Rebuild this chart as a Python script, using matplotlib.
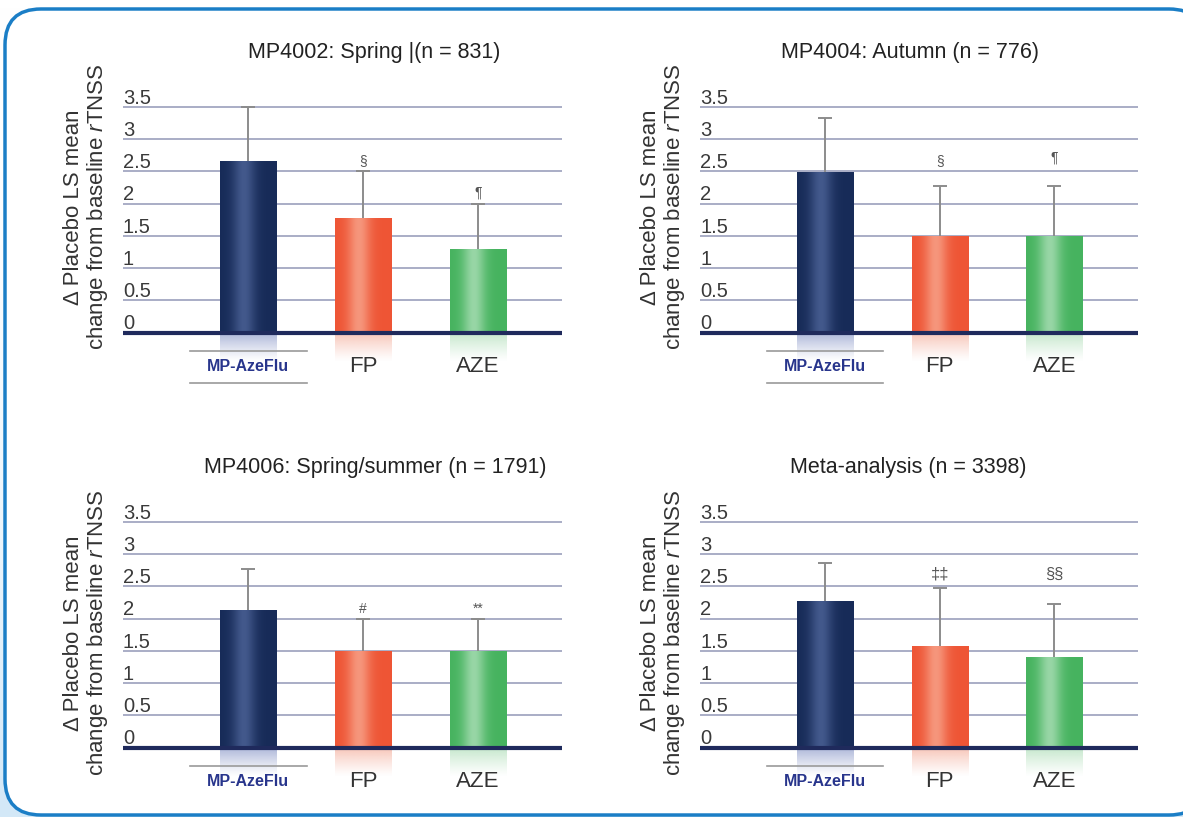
import numpy as np
import matplotlib
matplotlib.use("Agg")
import matplotlib.pyplot as plt
import matplotlib.transforms as mtransforms
from matplotlib.colors import to_rgb
from matplotlib.patches import FancyBboxPatch

plt.rcParams['font.family'] = ['Liberation Sans', 'DejaVu Sans']
plt.rcParams['mathtext.fontset'] = 'custom'
plt.rcParams['mathtext.rm'] = 'Liberation Sans'
plt.rcParams['mathtext.it'] = 'Liberation Sans:italic'

# data
groups = ["MP-AzeFlu", "FP", "AZE"]
titles = ["MP4002: Spring |(n = 831)", "MP4004: Autumn (n = 776)",
          "MP4006: Spring/summer (n = 1791)", "Meta-analysis (n = 3398)"]

mean_4002 = [2.66, 1.78, 1.30]
upper_4002 = [3.50, 2.50, 2.00]
mean_4004 = [2.49, 1.49, 1.49]
upper_4004 = [3.33, 2.27, 2.27]
mean_4006 = [2.14, 1.50, 1.50]
upper_4006 = [2.77, 1.99, 1.99]
mean_meta = [2.28, 1.58, 1.40]
upper_meta = [2.86, 2.47, 2.23]

sig_4002 = ["", "§", "¶"]
sig_4004 = ["", "§", "¶"]
sig_4006 = ["", "#", "**"]
sig_meta = ["", "‡‡", "§§"]
sig_y_4002 = [0, 2.66, 2.17]
sig_y_4004 = [0, 2.66, 2.71]
sig_y_4006 = [0, 2.15, 2.15]
sig_y_meta = [0, 2.69, 2.69]

yticks = [0, 0.5, 1, 1.5, 2, 2.5, 3, 3.5]
ytick_labels = ["0", "0.5", "1", "1.5", "2", "2.5", "3", "3.5"]

means = [mean_4002, mean_4004, mean_4006, mean_meta]
uppers = [upper_4002, upper_4004, upper_4006, upper_meta]
sigs = [sig_4002, sig_4004, sig_4006, sig_meta]
sig_ys = [sig_y_4002, sig_y_4004, sig_y_4006, sig_y_meta]

# styling / layout
W, H = 1183, 817
edge_cols = ['#172b58', '#ee5535', '#46b35f']
mid_cols = ['#43598c', '#f6967c', '#98d6a6']
refl_cols = ['#9aa6d0', '#f6b8a8', '#b8e2c0']
# axes boxes in pixels: left, top, width, height
boxes = [(123, 94, 439, 303), (700, 94, 438, 303),
         (123, 509, 439, 303), (700, 509, 438, 303)]
title_x = [0.572, 0.479, 0.574, 0.475]
ylab_y = [1.95, 1.95, 1.78, 1.78]
lower_line = [True, True, False, False]
sig_size = [10, 10, 10, 12]

fig = plt.figure(figsize=(W / 100, H / 100), dpi=100)
fig.patch.set_facecolor('white')

# light blue page background outside the rounded frame
bg = fig.add_axes([0, 0, 1, 1], zorder=-3)
bg.set_axis_off()
grad = np.linspace(0, 1, 100)[:, None] ** 2
bg_img = np.ones((100, 1, 3)) * (1 - grad[..., None]) + \
    np.array(to_rgb('#d3e8f7'))[None, None, :] * grad[..., None]
bg.imshow(bg_img, extent=[0, 1, 0, 1], aspect='auto', origin='upper')
bg.set_xlim(0, 1)
bg.set_ylim(0, 1)

# rounded frame, right side runs off the page; drawn in the bg axes (pixel units)
bg2 = fig.add_axes([0, 0, 1, 1], zorder=-2)
bg2.set_axis_off()
bg2.set_xlim(0, W)
bg2.set_ylim(H, 0)
frame = FancyBboxPatch((5, 9), 1200, 806, boxstyle="round,pad=0,rounding_size=36",
                       facecolor='white', edgecolor='#1b7ec6', lw=2.5)
bg2.add_patch(frame)
bg2.patch.set_alpha(0)

x = np.arange(len(groups))
bw = 0.49

for k in range(4):
    l, t, w, h = boxes[k]
    ax = fig.add_axes([l / W, 1 - (t + h) / H, w / W, h / H])
    ax.set_axis_off()

    m = np.array(means[k])
    up = np.array(uppers[k])

    # gridlines and baseline
    for yt in yticks[1:]:
        ax.axhline(yt, color='#a9adc6', lw=1.4, zorder=1)
    ax.axhline(0, color='#1f2a5c', lw=3, zorder=5)

    bars = ax.bar(x, m, width=bw, color=edge_cols, zorder=3)
    eb = ax.errorbar(x, m, yerr=[np.zeros(3), up - m], fmt='none',
                     ecolor='#8c8c8c', elinewidth=1.4, capsize=5, capthick=1.4,
                     zorder=2)
    eb[1][0].set_visible(False)

    # horizontal gradient inside bars, reflection under them
    tt = np.linspace(0, 1, 80)
    prof = np.exp(-((tt - 0.42) / 0.2) ** 2)
    for i, b in enumerate(bars):
        e = np.array(to_rgb(edge_cols[i]))
        c = np.array(to_rgb(mid_cols[i]))
        img = e[None, :] * (1 - prof[:, None]) + c[None, :] * prof[:, None]
        bx = b.get_x()
        im = ax.imshow(img[None, :, :], extent=[bx, bx + bw, 0, b.get_height()],
                       aspect='auto', zorder=4, interpolation='bilinear')
        im.set_clip_path(b)
        rc = np.array(to_rgb(refl_cols[i]))
        alpha = np.linspace(0.85, 0.0, 40) ** 1.2
        refl = np.zeros((40, 1, 4))
        refl[:, 0, :3] = rc
        refl[:, 0, 3] = alpha
        ax.imshow(refl, extent=[bx, bx + bw, -0.45, 0], aspect='auto',
                  zorder=2, interpolation='bilinear')

    # significance marks
    for i in range(3):
        if sigs[k][i]:
            ax.text(x[i], sig_ys[k][i], sigs[k][i], ha='center', va='center',
                    fontsize=sig_size[k], color='#555555', zorder=6)

    # y tick labels sitting on top of the gridlines
    trans = mtransforms.blended_transform_factory(ax.transAxes, ax.transData)
    for yt, lab in zip(yticks, ytick_labels):
        ax.text(0.0, yt + 0.05, lab, transform=trans, ha='left', va='baseline',
                fontsize=14.5, color='#3a3a3a')

    # category labels
    ax.text(x[0], -0.53, groups[0], ha='center', va='center', fontsize=11.5,
            fontweight='bold', color='#28358c')
    ax.plot([x[0] - 0.51, x[0] + 0.51], [-0.28, -0.28], color='#9a9a9a', lw=1.2)
    if lower_line[k]:
        ax.plot([x[0] - 0.51, x[0] + 0.51], [-0.79, -0.79], color='#9a9a9a',
                lw=1.2)
    for i in (1, 2):
        ax.text(x[i], -0.52, groups[i], ha='center', va='center', fontsize=16,
                color='#333333')

    ax.text(-0.083, ylab_y[k], "Δ Placebo LS mean\nchange from baseline $\\mathit{r}$TNSS",
            transform=trans, rotation=90, ha='center', va='center',
            multialignment='center', fontsize=16, color='#333333',
            linespacing=1.05)
    ax.text(title_x[k], 4.34, titles[k], transform=trans, ha='center',
            va='center', fontsize=15.5, color='#222222')

    ax.set_xlim(-1.09, 2.73)
    ax.set_ylim(-1.0, 3.7)

fig.savefig("out.png", dpi=100)
